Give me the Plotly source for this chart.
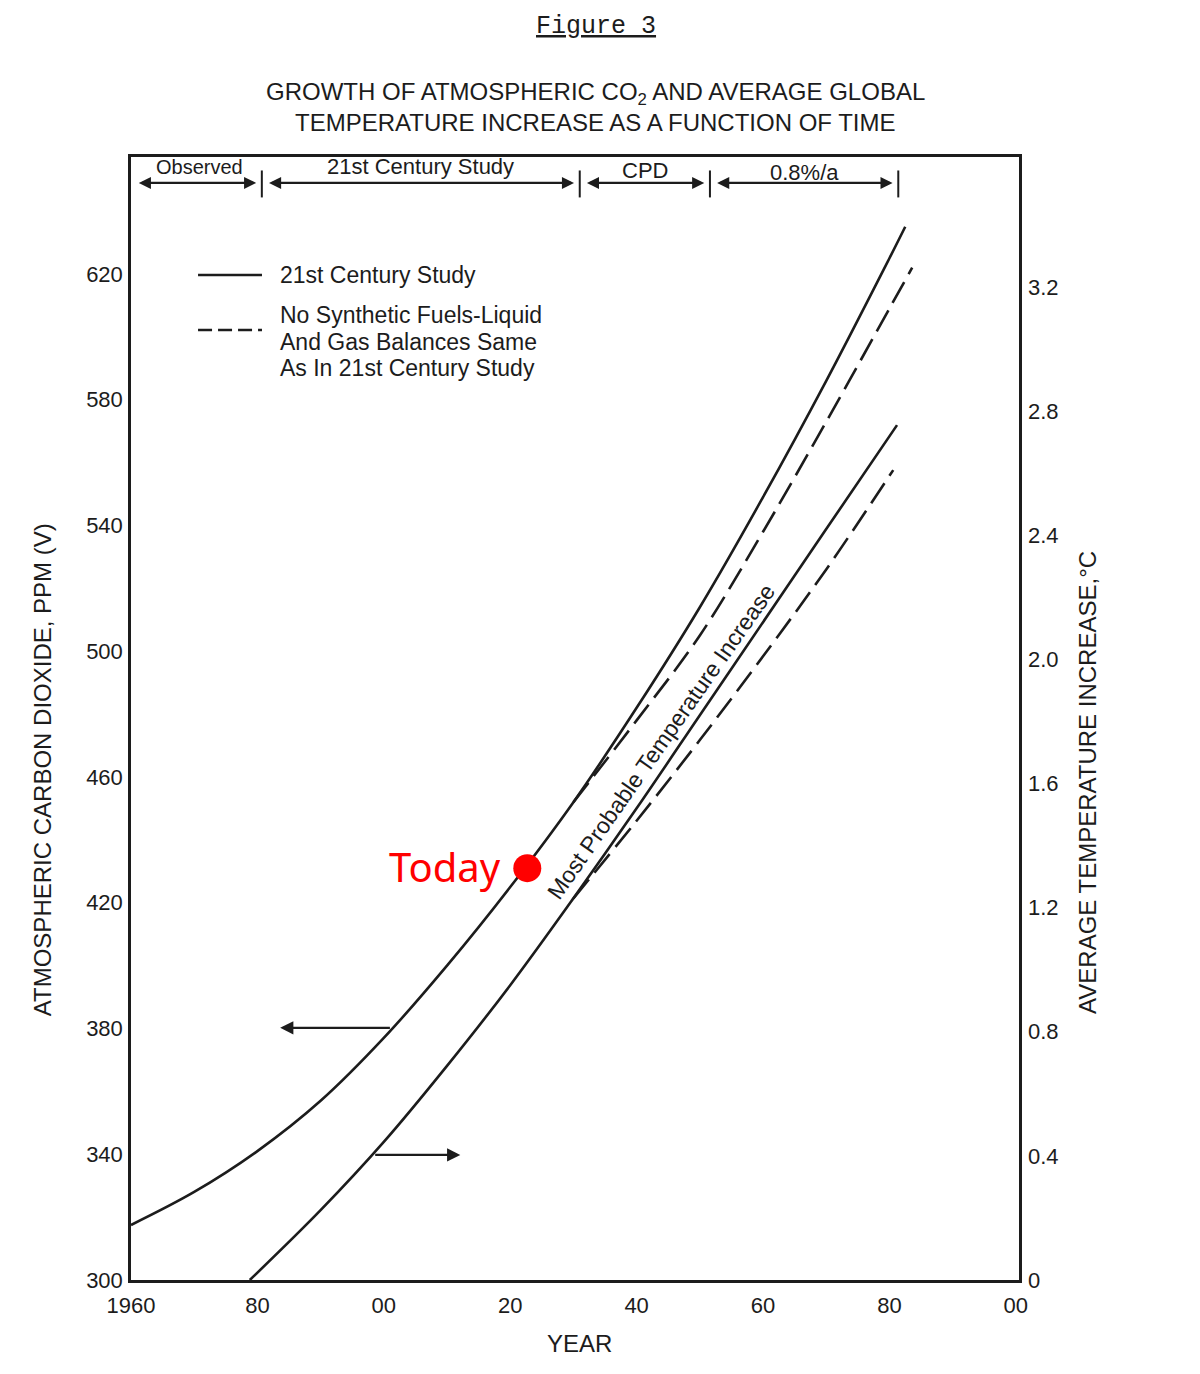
import plotly.graph_objects as go

# ---------------- data ----------------
co2_years = [1960, 1970, 1980, 1990, 2000, 2010, 2020, 2030, 2040, 2050, 2060, 2070, 2080, 2082.5]
co2_study = [317.5, 328, 341, 357, 377, 400, 425, 452, 482, 514, 549, 586, 625, 635]

co2_alt_years = [2030, 2040, 2050, 2060, 2070, 2080, 2083.6]
co2_alt = [452, 478, 505, 538, 573, 609, 622]

temp_years = [1978.8, 1990, 2000, 2010, 2020, 2030, 2040, 2050, 2060, 2070, 2081.2]
temp_study = [0.0, 0.225, 0.445, 0.69, 0.95, 1.23, 1.52, 1.82, 2.12, 2.42, 2.755]

temp_alt_years = [2030, 2040, 2050, 2060, 2070, 2080.6]
temp_alt = [1.23, 1.48, 1.74, 2.01, 2.29, 2.61]

today_year = [2022.7]
today_co2 = [431]

x_tickvals = [1960, 1980, 2000, 2020, 2040, 2060, 2080, 2100]
x_ticktext = ["1960", "80", "00", "20", "40", "60", "80", "00"]
co2_tickvals = [300, 340, 380, 420, 460, 500, 540, 580, 620]
temp_tickvals = [0, 0.4, 0.8, 1.2, 1.6, 2.0, 2.4, 2.8, 3.2]
temp_ticktext = ["0", "0.4", "0.8", "1.2", "1.6", "2.0", "2.4", "2.8", "3.2"]

period_bounds = [1961, 1980.7, 2031, 2051.6, 2081.4]
period_labels = ["Observed", "21st Century Study", "CPD", "0.8%/a"]
period_label_dy = [0, 0, -4, -6]
period_label_size = [20, 22, 22, 22]

legend_lines_alt = ["No Synthetic Fuels-Liquid", "And Gas Balances Same", "As In 21st Century Study"]

# ---------------- styling ----------------
INK = "#1c1c1c"
FONT = "Liberation Sans, Arial, sans-serif"
DASH = "24px,9px"

fig = go.Figure()

fig.add_trace(go.Scatter(x=co2_years, y=co2_study, mode="lines", line=dict(color=INK, width=2.6, shape="spline"),
                         showlegend=False, hoverinfo="skip"))
fig.add_trace(go.Scatter(x=co2_alt_years, y=co2_alt, mode="lines",
                         line=dict(color=INK, width=2.6, dash=DASH, shape="spline"),
                         showlegend=False, hoverinfo="skip"))
fig.add_trace(go.Scatter(x=temp_years, y=temp_study, mode="lines", yaxis="y2",
                         line=dict(color=INK, width=2.6, shape="spline"),
                         showlegend=False, hoverinfo="skip"))
fig.add_trace(go.Scatter(x=temp_alt_years, y=temp_alt, mode="lines", yaxis="y2",
                         line=dict(color=INK, width=2.6, dash=DASH, shape="spline"),
                         showlegend=False, hoverinfo="skip"))
fig.add_trace(go.Scatter(x=today_year, y=today_co2, mode="markers",
                         marker=dict(color="#ff0000", size=28), showlegend=False, hoverinfo="skip"))

annotations = []
shapes = []

annotations.append(dict(text="Today", x=today_year[0], y=today_co2[0], xref="x", yref="y", showarrow=False,
                        xanchor="right", yanchor="middle", xshift=-24, yshift=2,
                        font=dict(family="Noto Sans, Open Sans, sans-serif", size=40, color="#ff0000")))

# title block
annotations.append(dict(text="<u>Figure 3</u>", x=0.5231, y=1.1158, xref="paper", yref="paper",
                        showarrow=False, font=dict(family="Liberation Mono, DejaVu Sans Mono, monospace",
                                                   size=25, color=INK), xanchor="center", yanchor="middle"))
annotations.append(dict(text="GROWTH OF ATMOSPHERIC CO<sub>2</sub> AND AVERAGE GLOBAL",
                        x=0.5231, y=1.0561, xref="paper", yref="paper", showarrow=False,
                        font=dict(family=FONT, size=24, color=INK), xanchor="center", yanchor="middle"))
annotations.append(dict(text="TEMPERATURE INCREASE AS A FUNCTION OF TIME",
                        x=0.5231, y=1.0303, xref="paper", yref="paper", showarrow=False,
                        font=dict(family=FONT, size=24, color=INK), xanchor="center", yanchor="middle"))

# axis titles
annotations.append(dict(text="ATMOSPHERIC CARBON DIOXIDE, PPM (V)", x=-0.1002, y=0.454,
                        xref="paper", yref="paper", showarrow=False, textangle=-90,
                        font=dict(family=FONT, size=24, color=INK), xanchor="center", yanchor="middle"))
annotations.append(dict(text="AVERAGE TEMPERATURE INCREASE,°C", x=1.0777, y=0.4435,
                        xref="paper", yref="paper", showarrow=False, textangle=-90,
                        font=dict(family=FONT, size=24, color=INK), xanchor="center", yanchor="middle"))
annotations.append(dict(text="YEAR", x=0.5056, y=-0.0561, xref="paper", yref="paper", showarrow=False,
                        font=dict(family=FONT, size=24, color=INK), xanchor="center", yanchor="middle"))

# period header band
band_y = 0.9769
for i, lab in enumerate(period_labels):
    a, b = period_bounds[i], period_bounds[i + 1]
    annotations.append(dict(x=b - 0.9, y=band_y, ax=a + (0.9 if i > 0 else 0), ay=band_y,
                            xref="x", yref="y domain", axref="x", ayref="y domain",
                            text="", showarrow=True, arrowhead=2, arrowside="end+start",
                            arrowsize=1.1, arrowwidth=2.2, arrowcolor=INK))
    annotations.append(dict(x=(a + b) / 2, y=0.9911, xref="x", yref="y domain", text=lab,
                            showarrow=False, yshift=period_label_dy[i],
                            font=dict(family=FONT, size=period_label_size[i], color=INK),
                            xanchor="center", yanchor="middle"))
for b in period_bounds[1:]:
    shapes.append(dict(type="line", xref="x", yref="y domain", x0=b, x1=b, y0=0.964, y1=0.988,
                       line=dict(color=INK, width=2)))

# legend (manual)
shapes.append(dict(type="line", xref="paper", yref="paper", x0=0.0755, x1=0.1475, y0=0.8949, y1=0.8949,
                   line=dict(color=INK, width=2.6)))
shapes.append(dict(type="line", xref="paper", yref="paper", x0=0.0755, x1=0.1475, y0=0.8459, y1=0.8459,
                   line=dict(color=INK, width=2.6, dash="14px,6px")))
annotations.append(dict(text="21st Century Study", x=0.1655, y=0.8949, xref="paper", yref="paper",
                        showarrow=False, xanchor="left", yanchor="middle",
                        font=dict(family=FONT, size=23, color=INK)))
for k, line_txt in enumerate(legend_lines_alt):
    annotations.append(dict(text=line_txt, x=0.1655, y=0.8593 - k * 0.0238, xref="paper", yref="paper",
                            showarrow=False, xanchor="left", yanchor="middle",
                            font=dict(family=FONT, size=23, color=INK)))

# axis indicator arrows
annotations.append(dict(x=1983.6, y=380.2, ax=2001.2, ay=380.2, xref="x", yref="y", axref="x", ayref="y",
                        text="", showarrow=True, arrowhead=2, arrowsize=1.2, arrowwidth=2.2, arrowcolor=INK))
annotations.append(dict(x=2012.1, y=0.403, ax=1998.4, ay=0.403, xref="x", yref="y2", axref="x", ayref="y2",
                        text="", showarrow=True, arrowhead=2, arrowsize=1.2, arrowwidth=2.2, arrowcolor=INK))

# rotated curve label
annotations.append(dict(text="Most Probable Temperature Increase", x=2043.8, y=1.735, xref="x", yref="y2",
                        showarrow=False, textangle=-55, xanchor="center", yanchor="middle",
                        font=dict(family=FONT, size=23, color=INK)))

tickfont = dict(family=FONT, size=22, color=INK)

fig.update_layout(
    width=1200, height=1374,
    margin=dict(l=131, r=181, t=157, b=94),
    paper_bgcolor="white", plot_bgcolor="white",
    font=dict(family=FONT, color=INK),
    showlegend=False,
    xaxis=dict(range=[1960, 2100.5], tickvals=x_tickvals, ticktext=x_ticktext, ticks="",
               showgrid=False, zeroline=False, showline=True, linecolor=INK, linewidth=2.5, mirror=True,
               tickfont=tickfont, ticklabelstandoff=4, fixedrange=True),
    yaxis=dict(range=[300, 657.2], tickvals=co2_tickvals, ticks="", showgrid=False, zeroline=False,
               showline=True, linecolor=INK, linewidth=2.5, mirror=True, tickfont=tickfont,
               ticklabelstandoff=1, fixedrange=True),
    yaxis2=dict(range=[0, 3.619], tickvals=temp_tickvals, ticktext=temp_ticktext, overlaying="y",
                side="right", ticks="", showgrid=False, zeroline=False, showline=False,
                tickfont=tickfont, ticklabelstandoff=8, fixedrange=True),
    annotations=annotations,
    shapes=shapes,
)

fig.write_html("out.html", config={"displayModeBar": False},
               post_script="document.body.style.margin='0';")
